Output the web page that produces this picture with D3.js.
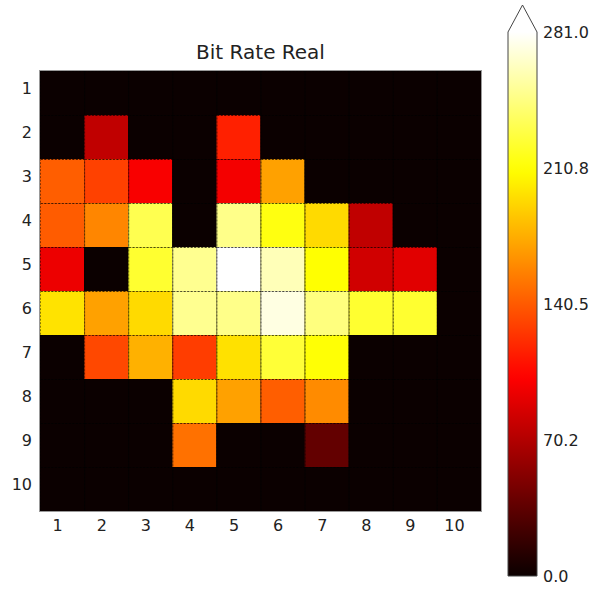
<!DOCTYPE html>
<html>
<head>
<meta charset="utf-8">
<script src="https://cdn.jsdelivr.net/npm/d3@7"></script>
<style>
  html, body { margin: 0; padding: 0; background: #fff; }
  svg { display: block; font-family: "DejaVu Sans", sans-serif; }
</style>
</head>
<body>
<svg id="chart" width="594" height="589"></svg>
<script>
// Grid labels
const rowLabels = ["1", "2", "3", "4", "5", "6", "7", "8", "9", "10"];
const colLabels = ["1", "2", "3", "4", "5", "6", "7", "8", "9", "10"];

// Measured bit rate per cell, one array per row (top to bottom)
const bitRate = [
  [0, 0, 0, 0, 0, 0, 0, 0, 0, 0],
  [0, 76, 0, 0, 116, 0, 0, 0, 0, 0],
  [142, 130, 100, 0, 98, 170, 0, 0, 0, 0],
  [141, 159, 232, 0, 248, 214, 194, 76, 0, 0],
  [95, 0, 223, 250, 281, 261, 210, 83, 90, 0],
  [198, 170, 194, 250, 248, 273, 245, 223, 223, 0],
  [0, 133, 177, 128, 197, 225, 211, 0, 0, 0],
  [0, 0, 0, 194, 170, 142, 161, 0, 0, 0],
  [0, 0, 0, 150, 0, 0, 37, 0, 0, 0],
  [0, 0, 0, 0, 0, 0, 0, 0, 0, 0]
];

// Colour range and colorbar ticks
const valueRange = [0, 281];
const colorbarTicks = [0, 70.25, 140.5, 210.75, 281];
const colorbarTickLabels = ["0.0", "70.2", "140.5", "210.8", "281.0"];
const titleText = "Bit Rate Real";

// "hot" colormap: black -> red -> yellow -> white
function hot(t) {
  t = Math.max(0, Math.min(1, t));
  const seg = (x, pts) => {
    for (let i = 1; i < pts.length; i++) {
      if (x <= pts[i][0]) {
        const [x0, y0] = pts[i - 1], [x1, y1] = pts[i];
        return y0 + (y1 - y0) * (x - x0) / (x1 - x0);
      }
    }
    return pts[pts.length - 1][1];
  };
  const r = seg(t, [[0, 0.0416], [0.365079, 1], [1, 1]]);
  const g = seg(t, [[0, 0], [0.365079, 0], [0.746032, 1], [1, 1]]);
  const b = seg(t, [[0, 0], [0.746032, 0], [1, 1]]);
  return d3.rgb(r * 255, g * 255, b * 255).formatHex();
}

const color = d3.scaleSequential(hot).domain(valueRange);

const svg = d3.select("#chart");
const plot = { left: 40, top: 71, width: 441, height: 440 };

const x = d3.scaleBand().domain(colLabels).range([plot.left, plot.left + plot.width]).padding(0);
const y = d3.scaleBand().domain(rowLabels).range([plot.top, plot.top + plot.height]).padding(0);

// Plot background in the colormap's low colour, so no seams show between cells
svg.append("rect")
  .attr("x", plot.left)
  .attr("y", plot.top)
  .attr("width", plot.width)
  .attr("height", plot.height)
  .attr("fill", color(valueRange[0]));

// Cells
const cells = [];
bitRate.forEach((row, i) => row.forEach((v, j) => cells.push({ r: rowLabels[i], c: colLabels[j], v })));

svg.append("g").selectAll("rect")
  .data(cells)
  .join("rect")
  .attr("x", d => x(d.c))
  .attr("y", d => y(d.r))
  .attr("width", x.bandwidth())
  .attr("height", y.bandwidth())
  .attr("fill", d => color(d.v));

// Dashed cell edges
svg.append("g").selectAll("rect")
  .data(cells)
  .join("rect")
  .attr("x", d => x(d.c) + 0.5)
  .attr("y", d => y(d.r) + 0.5)
  .attr("width", x.bandwidth())
  .attr("height", y.bandwidth())
  .attr("fill", "none")
  .attr("stroke", "#000")
  .attr("stroke-opacity", 0.6)
  .attr("stroke-width", 0.8)
  .attr("stroke-dasharray", "2,1.5");

// Axes frame
svg.append("rect")
  .attr("x", plot.left - 0.5)
  .attr("y", plot.top - 0.5)
  .attr("width", plot.width + 1)
  .attr("height", plot.height + 1)
  .attr("fill", "none")
  .attr("stroke", "#999")
  .attr("stroke-width", 1);

// Tick labels (ticks sit at 0.4 of each band)
const tickFrac = 0.4;
svg.append("g").selectAll("text")
  .data(colLabels)
  .join("text")
  .attr("x", d => x(d) + x.bandwidth() * tickFrac)
  .attr("y", plot.top + plot.height + 19.5)
  .attr("text-anchor", "middle")
  .attr("font-size", 16)
  .attr("fill", "#222")
  .text(d => d);

svg.append("g").selectAll("text")
  .data(rowLabels)
  .join("text")
  .attr("x", plot.left - 8)
  .attr("y", d => y(d) + y.bandwidth() * tickFrac)
  .attr("dy", "0.36em")
  .attr("text-anchor", "end")
  .attr("font-size", 16)
  .attr("fill", "#222")
  .text(d => d);

// Title
svg.append("text")
  .attr("x", plot.left + plot.width / 2)
  .attr("y", 59)
  .attr("text-anchor", "middle")
  .attr("font-size", 20)
  .attr("fill", "#222")
  .text(titleText);

// Colorbar
const cb = { left: 508, width: 29, top: 32, bottom: 576, tip: 5 };
const cy = d3.scaleLinear().domain(valueRange).range([cb.bottom, cb.top]);

const defs = svg.append("defs");
const grad = defs.append("linearGradient")
  .attr("id", "hotGrad")
  .attr("x1", 0).attr("y1", 1).attr("x2", 0).attr("y2", 0);
d3.range(0, 1.0001, 0.02).forEach(t => {
  grad.append("stop").attr("offset", t).attr("stop-color", hot(t));
});

svg.append("rect")
  .attr("x", cb.left)
  .attr("y", cy(valueRange[1]))
  .attr("width", cb.width)
  .attr("height", cy(valueRange[0]) - cy(valueRange[1]))
  .attr("fill", "url(#hotGrad)");

// Extension arrow for values above the range, plus outline
svg.append("path")
  .attr("d", `M${cb.left},${cb.top} L${cb.left + cb.width / 2},${cb.tip} L${cb.left + cb.width},${cb.top} Z`)
  .attr("fill", color(valueRange[1]));

svg.append("path")
  .attr("d", `M${cb.left},${cb.bottom} L${cb.left},${cb.top} L${cb.left + cb.width / 2},${cb.tip} L${cb.left + cb.width},${cb.top} L${cb.left + cb.width},${cb.bottom} Z`)
  .attr("fill", "none")
  .attr("stroke", "#444")
  .attr("stroke-width", 1);

svg.append("g").selectAll("text")
  .data(colorbarTicks)
  .join("text")
  .attr("x", cb.left + cb.width + 6)
  .attr("y", d => cy(d))
  .attr("dy", "0.36em")
  .attr("font-size", 16)
  .attr("fill", "#222")
  .text((d, i) => colorbarTickLabels[i]);
</script>
</body>
</html>
